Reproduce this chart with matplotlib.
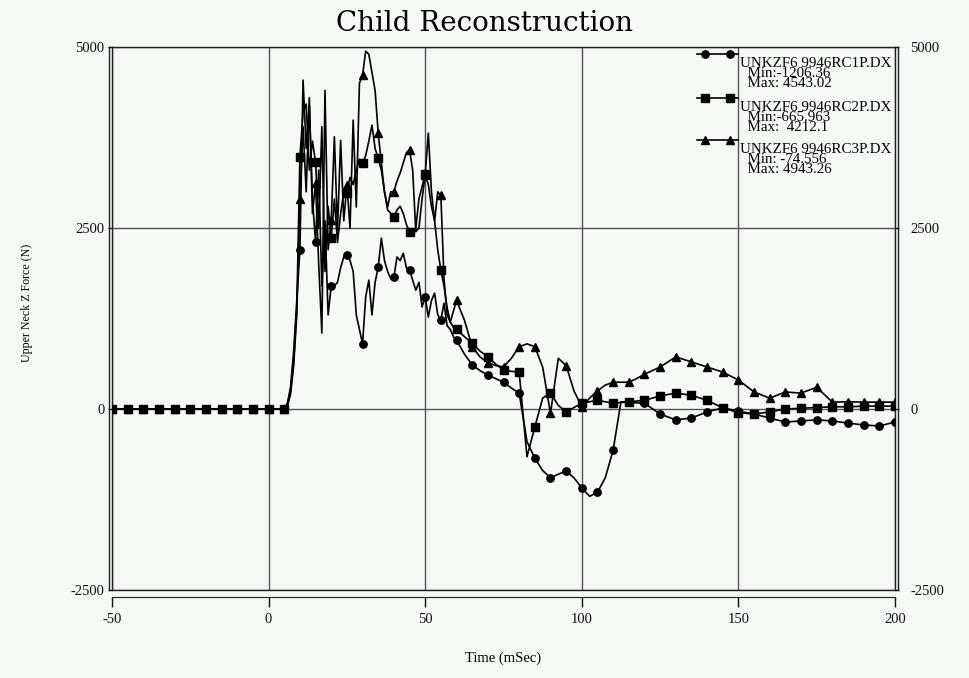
import numpy as np
import matplotlib
matplotlib.use('Agg')
import matplotlib.pyplot as plt

# ---------------- data ----------------
time_ms = ([-50, -45, -40, -35, -30, -25, -20, -15, -10, -5, 0]
           + list(range(1, 61))
           + [62.5, 65, 67.5, 70, 72.5, 75, 77.5, 80, 82.5, 85, 87.5, 90,
              92.5, 95, 97.5, 100, 102.5, 105, 107.5, 110, 112.5, 115, 117.5, 120]
           + list(range(125, 201, 5)))

pre_trigger = [0, 0, 0, 0, 0, 0, 0, 0, 0, 0, 0]

c1_values = pre_trigger + [
    0, 0, 0, 0, 0, 80, 300, 800, 1500, 2200,
    4543, 3600, 4200, 2900, 2300, 3300, 1700, 2600, 1300, 1700,
    1700, 1750, 1950, 2100, 2130, 2050, 1900, 1300, 1100, 900,
    1550, 1780, 1300, 1750, 1960, 2360, 2050, 1900, 1800, 1820,
    2100, 2050, 2150, 1950, 1920, 1780, 1640, 1750, 1410, 1550,
    1270, 1500, 1600, 1300, 1230, 1460, 1150, 1100, 1000, 950,
    760, 610, 530, 470, 420, 370, 290, 220, -450, -680, -850, -950,
    -900, -860, -950, -1090, -1206, -1150, -950, -570, 100, 95, 85, 80,
    -70, -150, -125, -40, 15, -30, -70, -125, -180, -165, -150, -165,
    -195, -220, -235, -180]

c2_values = pre_trigger + [
    0, 0, 0, 0, 0, 60, 250, 650, 1400, 3480,
    4100, 4212, 3300, 3700, 3410, 2500, 3900, 1900, 2800, 2360,
    2900, 2300, 2700, 3000, 2980, 3200, 3100, 3300, 3450, 3400,
    3500, 3700, 3920, 3600, 3460, 3300, 3000, 2750, 2700, 2650,
    2750, 2800, 2700, 2550, 2440, 2450, 2500, 2900, 3070, 3250,
    3810, 3000, 2600, 2200, 1920, 1700, 1400, 1200, 1130, 1100,
    1000, 910, 800, 720, 620, 540, 520, 510, -660, -250, 150, 220,
    50, -40, 20, 80, 100, 120, 100, 80, 90, 95, 110, 120,
    180, 220, 190, 120, 15, -50, -70, -40, 0, 10, 20, 30,
    30, 40, 40, 40]

c3_values = pre_trigger + [
    0, 0, 0, 0, 0, 40, 200, 600, 1300, 2900,
    3900, 3000, 4300, 2700, 3120, 2000, 1050, 4400, 2200, 2610,
    3760, 2470, 3710, 2600, 3100, 2500, 3990, 2790, 4500, 4610,
    4943, 4900, 4650, 4400, 3810, 3400, 3000, 2790, 3000, 3000,
    3150, 3260, 3400, 3540, 3580, 3300, 2450, 2500, 2900, 3230,
    3100, 2800, 2600, 3000, 2950, 1800, 1300, 1200, 1350, 1500,
    1230, 860, 720, 640, 600, 580, 700, 860, 900, 860, 580, -60,
    700, 600, 250, 30, 150, 250, 330, 370, 370, 370, 420, 480,
    580, 720, 650, 580, 510, 400, 235, 150, 235, 220, 300, 95,
    100, 95, 95, 95]

series_names = ["UNKZF6 9946RC1P.DX", "UNKZF6 9946RC2P.DX", "UNKZF6 9946RC3P.DX"]
series_min = ["Min:-1206.36", "Min:-665.963", "Min: -74.556"]
series_max = ["Max: 4543.02", "Max:  4212.1", "Max: 4943.26"]
series_markers = ["o", "s", "^"]

x_ticks = [-50, 0, 50, 100, 150, 200]
y_ticks = [-2500, 0, 2500, 5000]

# ---------------- figure ----------------
BG = '#f4f9f4'
SERIF = 'Liberation Serif'
W, H = 969, 678
fig = plt.figure(figsize=(W / 100, H / 100), dpi=100, facecolor=BG)
ax = fig.add_axes([112 / W, 88 / H, 783 / W, 543 / H], facecolor=BG)

t = np.array(time_ms, dtype=float)
mark_idx = [i for i, v in enumerate(t) if abs(v / 5 - round(v / 5)) < 1e-9]

for vals, mk in zip([c1_values, c2_values, c3_values], series_markers):
    ax.plot(t, vals, color='black', lw=1.2, marker=mk, markersize=5.3,
            markevery=mark_idx, markerfacecolor='black', markeredgecolor='black',
            zorder=3)

ax.set_xlim(-50, 200)
ax.set_ylim(-2500, 5000)
ax.set_xticks(x_ticks)
ax.set_xticklabels([str(v) for v in x_ticks])
ax.set_yticks(y_ticks)
ax.set_yticklabels([str(v) for v in y_ticks])

ax.grid(True, color='#555555', lw=1.0)
ax.set_axisbelow(True)

for s in ['left', 'right', 'top']:
    ax.spines[s].set_color('#222222')
    ax.spines[s].set_linewidth(1.0)
ax.spines['bottom'].set_position(('outward', 5.0))
ax.spines['bottom'].set_color('#222222')

# box bottom edge and doubled side edges
ax.plot([0, 1], [0, 0], transform=ax.transAxes, color='#222222', lw=1.0, clip_on=False)
ax.plot([-3 / 783, -3 / 783], [0, 1], transform=ax.transAxes, color='#222222', lw=1.0, clip_on=False)
ax.plot([1 + 2.5 / 783, 1 + 2.5 / 783], [0, 1], transform=ax.transAxes, color='#222222', lw=1.0, clip_on=False)

ax.tick_params(axis='x', direction='out', length=7.2, width=1, pad=4.5, labelsize=10.5, colors='#111111')
ax.tick_params(axis='y', left=True, right=True, direction='out', length=3, width=1,
               pad=2.5, labelsize=10.5, labelleft=True, labelright=False, colors='#111111')
for lbl in ax.get_xticklabels() + ax.get_yticklabels():
    lbl.set_family(SERIF)

ax2 = ax.twinx()
ax2.set_ylim(ax.get_ylim())
ax2.set_yticks(y_ticks)
ax2.set_yticklabels([str(v) for v in y_ticks])
for s in ax2.spines.values():
    s.set_visible(False)
ax2.tick_params(axis='y', right=True, direction='out', length=3, width=1, pad=8,
                labelsize=10.5, colors='#111111')
for lbl in ax2.get_yticklabels():
    lbl.set_family(SERIF)

ax.set_xlabel('Time (mSec)', family=SERIF, fontsize=10.5)
ax.xaxis.set_label_coords(0.5, -0.114)
ax.set_ylabel('Upper Neck Z Force (N)', family=SERIF, fontsize=8.6)
ax.yaxis.set_label_coords(-0.101, 0.529)

fig.text(0.5, 1 - 31 / H, 'Child Reconstruction', family='DejaVu Serif', fontsize=20,
         ha='center', va='baseline')

# ---------------- legend (drawn manually) ----------------
def ax_y(py):
    return (590 - py) / 543

def ax_x(px):
    return (px - 112) / 783

line_y = [54, 98, 140]
for k in range(3):
    ly = ax_y(line_y[k])
    ax.plot([ax_x(697), ax_x(738)], [ly, ly], transform=ax.transAxes, color='black',
            lw=1.2, clip_on=False, zorder=4)
    ax.plot([ax_x(705), ax_x(730)], [ly, ly], transform=ax.transAxes, color='black',
            lw=0, marker=series_markers[k], markersize=5.3, clip_on=False, zorder=4)
    block = series_names[k] + "\n  " + series_min[k] + "\n  " + series_max[k]
    ax.text(ax_x(740), ax_y(line_y[k] + 33), block, transform=ax.transAxes,
            family=SERIF, fontsize=10.8, va='baseline', ha='left', linespacing=0.68,
            clip_on=True, zorder=5)

fig.savefig('out.png', dpi=100, facecolor=BG)
